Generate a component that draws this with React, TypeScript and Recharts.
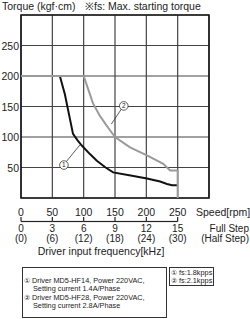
import { LineChart, Line, XAxis, YAxis, CartesianGrid, ReferenceDot, ReferenceLine, ReferenceArea } from "recharts";

// curve 1: MD5-HF14, 1.4A/Phase
const curve1 = [
  { rpm: 0, torque: 200 },
  { rpm: 62, torque: 200 },
  { rpm: 70, torque: 170 },
  { rpm: 77, torque: 135 },
  { rpm: 83, torque: 105 },
  { rpm: 90, torque: 95 },
  { rpm: 97, torque: 86 },
  { rpm: 110, torque: 72 },
  { rpm: 121, torque: 61 },
  { rpm: 135, torque: 50 },
  { rpm: 147, torque: 42 },
  { rpm: 175, torque: 37 },
  { rpm: 201, torque: 32 },
  { rpm: 222, torque: 27 },
  { rpm: 233, torque: 23 },
  { rpm: 241, torque: 21 },
  { rpm: 249, torque: 21 },
];

// curve 2: MD5-HF28, 2.8A/Phase
const curve2 = [
  { rpm: 0, torque: 200 },
  { rpm: 100, torque: 200 },
  { rpm: 108, torque: 176 },
  { rpm: 115, torque: 155 },
  { rpm: 125, torque: 136 },
  { rpm: 135, torque: 121 },
  { rpm: 142, torque: 111 },
  { rpm: 150, torque: 100 },
  { rpm: 174, torque: 83 },
  { rpm: 201, torque: 70 },
  { rpm: 227, torque: 56 },
  { rpm: 238, torque: 45 },
  { rpm: 250, torque: 45 },
  { rpm: 250, torque: 0 },
];

const rpmTicks = [0, 50, 100, 150, 200, 250, 300];
const torqueTicks = [0, 50, 100, 150, 200, 250, 300];
const fullStep = ["0", "3", "6", "9", "12", "15"];
const halfStep = ["(0)", "(6)", "(12)", "(18)", "(24)", "(30)"];

const FONT = "'Liberation Sans', Arial, sans-serif";
const INK = "#222";
const STEP = 188 / 6;

const XTick = (props: any) => {
  const { x, y, payload } = props;
  const i = rpmTicks.indexOf(payload.value);
  if (i < 0 || i >= fullStep.length) return <g />;
  return (
    <g fontFamily={FONT} fill={INK}>
      <text x={x} y={y + 14} fontSize={10.5} textAnchor="middle" dominantBaseline="central">
        {payload.value}
      </text>
      <line x1={x} y1={y + 19} x2={x} y2={y + 23.5} stroke={INK} strokeWidth={1.2} />
      {i > 0 && <line x1={x - STEP} y1={y + 23.5} x2={x} y2={y + 23.5} stroke={INK} strokeWidth={1.2} />}
      <text x={x} y={y + 30.5} fontSize={10} textAnchor="middle" dominantBaseline="central">
        {fullStep[i]}
      </text>
      <text x={x} y={y + 40} fontSize={10} textAnchor="middle" dominantBaseline="central">
        {halfStep[i]}
      </text>
    </g>
  );
};

const YTick = (props: any) => {
  const { x, y, payload } = props;
  if (payload.value === 0 || payload.value === 300) return <g />;
  return (
    <text x={x} y={y} textAnchor="end" dominantBaseline="central" fontFamily={FONT} fontSize={10.5} fill={INK}>
      {payload.value}
    </text>
  );
};

const circleLabel = (n: string) => ({
  value: n,
  position: "center" as const,
  fontSize: 6.5,
  fill: INK,
  fontFamily: FONT,
});

export default function App() {
  return (
    <div style={{ position: "absolute", left: 0, top: 0, width: 250, height: 319, background: "#fff" }}>
      <LineChart width={250} height={319} margin={{ top: 15, right: 41, bottom: 61, left: 0 }}>
        <CartesianGrid stroke="#444" strokeWidth={1.2} />
        <ReferenceArea x1={0} x2={300} y1={0} y2={300} fill="none" stroke="#1a1a1a" strokeWidth={1.6} />
        <XAxis
          dataKey="rpm"
          type="number"
          domain={[0, 300]}
          ticks={rpmTicks}
          height={60}
          axisLine={false}
          tickLine={false}
          tickSize={0}
          tickMargin={0}
          tick={<XTick />}
          interval={0}
        />
        <YAxis
          dataKey="torque"
          type="number"
          domain={[0, 300]}
          ticks={torqueTicks}
          width={21}
          axisLine={false}
          tickLine={false}
          tickSize={0}
          tickMargin={2}
          tick={<YTick />}
          interval={0}
        />
        <Line data={curve1} dataKey="torque" stroke="#111" strokeWidth={2} dot={false} isAnimationActive={false} />
        <Line data={curve2} dataKey="torque" stroke="#9a9a9a" strokeWidth={2} dot={false} isAnimationActive={false} />
        <ReferenceLine segment={[{ x: 71, y: 58 }, { x: 94, y: 87 }]} stroke="#333" strokeWidth={0.8} />
        <ReferenceLine segment={[{ x: 161, y: 147 }, { x: 144, y: 121 }]} stroke="#333" strokeWidth={0.8} />
        <ReferenceDot x={68.5} y={54} r={4.3} fill="#fff" stroke="#333" strokeWidth={0.8} label={circleLabel("1")} />
        <ReferenceDot x={164} y={151} r={4.3} fill="#fff" stroke="#333" strokeWidth={0.8} label={circleLabel("2")} />
      </LineChart>
      <svg width={250} height={319} style={{ position: "absolute", left: 0, top: 0, pointerEvents: "none" }} fontFamily={FONT} fill={INK}>
        <text x={2} y={6} fontSize={10.5} dominantBaseline="central">Torque (kgf·cm)</text>
        <text x={85} y={6} fontSize={10.5} dominantBaseline="central">※fs: Max. starting torque</text>
        <text x={196} y={212} fontSize={10.5} dominantBaseline="central">Speed[rpm]</text>
        <text x={249} y={228.5} fontSize={10} dominantBaseline="central" textAnchor="end">Full Step</text>
        <text x={249} y={238} fontSize={10} dominantBaseline="central" textAnchor="end">(Half Step)</text>
        <text x={101} y={251} fontSize={10.5} dominantBaseline="central" textAnchor="middle">Driver input frequency[kHz]</text>
        <rect x={22.5} y={267.5} width={144} height={50} fill="none" stroke="#333" strokeWidth={1} />
        <g fontSize={7.3}>
          <text x={24} y={280} dominantBaseline="central">① Driver MD5-HF14, Power 220VAC,</text>
          <text x={33} y={288.5} dominantBaseline="central">Setting current 1.4A/Phase</text>
          <text x={24} y={297} dominantBaseline="central">② Driver MD5-HF28, Power 220VAC,</text>
          <text x={33} y={305.5} dominantBaseline="central">Setting current 2.8A/Phase</text>
        </g>
        <rect x={169.5} y={267.5} width={44} height={18} fill="none" stroke="#333" strokeWidth={1} />
        <g fontSize={7.3}>
          <text x={171} y={272} dominantBaseline="central">① fs:1.8kpps</text>
          <text x={171} y={280.5} dominantBaseline="central">② fs:2.1kpps</text>
        </g>
      </svg>
    </div>
  );
}
